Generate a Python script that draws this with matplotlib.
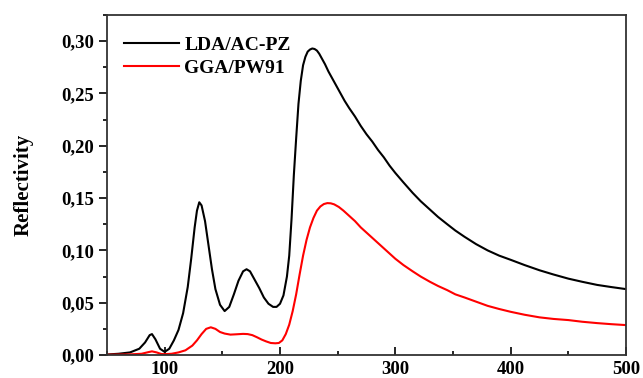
import matplotlib
matplotlib.use("Agg")
import matplotlib.pyplot as plt
from matplotlib.ticker import MultipleLocator, FuncFormatter

# LDA/AC-PZ curve, values
lda_x = [50, 60, 70, 78, 83, 87, 89, 92, 96, 100, 104, 108, 112, 116, 120, 123, 126, 128, 130,
         132, 135, 138, 141, 144, 148, 152, 156, 160, 164, 168, 171, 174, 178, 182, 186, 190,
         194, 197, 200, 203, 206, 208, 210, 212, 214, 216, 218, 220, 222, 224, 226, 228, 230,
         232, 234, 236, 239, 242, 245, 248, 252, 256, 260, 265, 270, 275, 280, 285, 290, 295,
         300, 307, 315, 322, 330, 337, 345, 352, 360, 370, 380, 390, 400, 412, 425, 437, 450,
         462, 475, 487, 500]
lda_y = [0.0005, 0.0012, 0.0025, 0.006, 0.012, 0.019, 0.020, 0.015, 0.006, 0.003, 0.006, 0.014,
         0.024, 0.040, 0.065, 0.092, 0.122, 0.138, 0.146, 0.143, 0.128, 0.105, 0.082, 0.063,
         0.048, 0.042, 0.046, 0.058, 0.071, 0.080, 0.082, 0.080, 0.072, 0.064, 0.055, 0.049,
         0.046, 0.046, 0.049, 0.057, 0.075, 0.095, 0.130, 0.172, 0.207, 0.240, 0.262, 0.277,
         0.285, 0.290, 0.292, 0.293, 0.2925, 0.291, 0.288, 0.284, 0.278, 0.271, 0.265, 0.259,
         0.251, 0.243, 0.236, 0.228, 0.219, 0.211, 0.204, 0.196, 0.189, 0.181, 0.174, 0.165,
         0.155, 0.147, 0.139, 0.132, 0.125, 0.119, 0.113, 0.106, 0.100, 0.095, 0.091, 0.086,
         0.081, 0.077, 0.073, 0.070, 0.067, 0.065, 0.063]

# GGA/PW91 curve
gga_x = [50, 70, 80, 86, 89, 93, 97, 100, 106, 112, 118, 124, 128, 132, 136, 140, 144, 148, 152,
         157, 162, 168, 172, 176, 180, 184, 188, 192, 196, 199, 202, 205, 208, 211, 214, 217,
         220, 223, 226, 229, 232, 235, 238, 241, 244, 247, 251, 255, 260, 265, 270, 275, 280,
         285, 290, 295, 300, 307, 315, 322, 330, 337, 345, 352, 360, 370, 380, 390, 400, 412,
         425, 437, 450, 462, 475, 487, 500]
gga_y = [0.0003, 0.0006, 0.0012, 0.0028, 0.0035, 0.0025, 0.001, 0.0008, 0.0012, 0.0025, 0.0045,
         0.009, 0.014, 0.020, 0.025, 0.0265, 0.025, 0.022, 0.0205, 0.0195, 0.0198, 0.0202,
         0.0200, 0.019, 0.017, 0.0148, 0.013, 0.0115, 0.0112, 0.0115, 0.014, 0.020, 0.029,
         0.042, 0.058, 0.077, 0.095, 0.110, 0.122, 0.131, 0.138, 0.142, 0.1443, 0.1452,
         0.1450, 0.1440, 0.1415, 0.138, 0.133, 0.128, 0.122, 0.117, 0.112, 0.107, 0.102,
         0.097, 0.092, 0.086, 0.080, 0.075, 0.070, 0.066, 0.062, 0.058, 0.055, 0.051, 0.047,
         0.044, 0.0413, 0.0385, 0.036, 0.0345, 0.0334, 0.0318, 0.0305, 0.0295, 0.0286]

plt.rcParams['font.family'] = ['Liberation Serif', 'DejaVu Serif']
plt.rcParams['font.weight'] = 'bold'

fig = plt.figure(figsize=(6.43, 3.78), dpi=100)
ax = fig.add_axes([0.1664, 0.0608, 0.8072, 0.8995])

ax.plot(lda_x, lda_y, color='black', lw=1.5, label='LDA/AC-PZ')
ax.plot(gga_x, gga_y, color='red', lw=1.5, label='GGA/PW91')

ax.set_xlim(50, 500)
ax.set_ylim(0, 0.325)
ax.xaxis.set_major_locator(MultipleLocator(100))
ax.xaxis.set_minor_locator(MultipleLocator(50))
ax.yaxis.set_major_locator(MultipleLocator(0.05))
ax.yaxis.set_minor_locator(MultipleLocator(0.025))
ax.yaxis.set_major_formatter(FuncFormatter(lambda v, p: f"{v:.2f}".replace('.', ',')))

ax.tick_params(axis='x', which='major', direction='in', length=6, width=1.2, labelsize=13.5, pad=4)
ax.tick_params(axis='x', which='minor', direction='in', length=3, width=1.2)
ax.tick_params(axis='y', which='major', direction='out', length=6, width=1.2, labelsize=13.5, pad=3)
ax.tick_params(axis='y', which='minor', direction='out', length=3, width=1.2)
for lab in ax.get_xticklabels() + ax.get_yticklabels():
    lab.set_fontweight('bold')
for sp in ax.spines.values():
    sp.set_linewidth(1.3)
    sp.set_color('#333333')

ax.set_ylabel('Reflectivity', fontsize=15, fontweight='bold', labelpad=20)

ax.legend(loc='upper left', bbox_to_anchor=(0.0, 0.99), frameon=False,
          handlelength=2.8, handletextpad=0.28, labelspacing=0.3, prop={'weight': 'bold', 'size': 14})

fig.savefig('out.png', dpi=100)
